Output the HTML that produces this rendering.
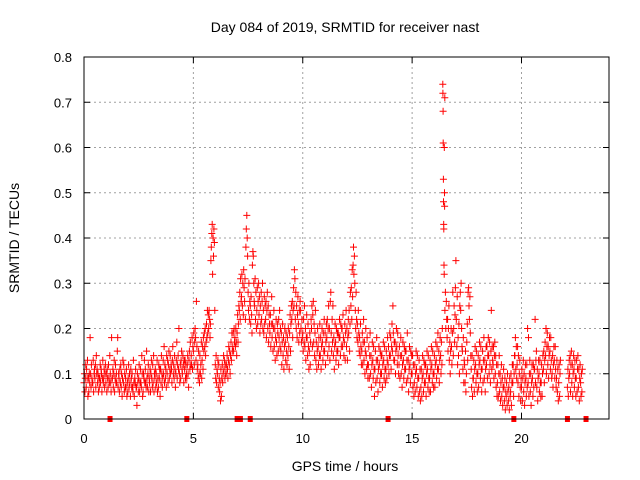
<!DOCTYPE html>
<html><head><meta charset="utf-8">
<style>
html,body{margin:0;padding:0;background:#fff;}
svg{display:block;font-family:"Liberation Sans",sans-serif;}
</style></head>
<body>
<svg id="chart" width="640" height="480" viewBox="0 0 640 480" xmlns="http://www.w3.org/2000/svg">
<rect width="640" height="480" fill="#fff"/>
<text x="345" y="32" font-size="14" text-anchor="middle">Day 084 of 2019, SRMTID for receiver nast</text>
<text transform="translate(19,238) rotate(-90)" font-size="14" text-anchor="middle">SRMTID / TECUs</text>
<text x="345" y="471" font-size="14" text-anchor="middle">GPS time / hours</text>
<g id="grid"></g>
<g id="ticks"></g>
<g id="points"></g>
<g id="flags"></g>
<rect x="84" y="57" width="525" height="362" fill="none" stroke="#000" stroke-width="1"/>
</svg>
<script>
const xTicks = [0,5,10,15,20];
const yTicks = [0,0.1,0.2,0.3,0.4,0.5,0.6,0.7,0.8];
const yTickLabels = ["0","0.1","0.2","0.3","0.4","0.5","0.6","0.7","0.8"];
const binHours = 0.1;
const markerTimes = [1.19,4.7,7.0,7.15,7.6,13.9,19.65,22.1,22.95];
const srmtid = [
[.08,.10,.06,.09,.12],[.07,.11,.09,.13,.05],[.09,.06,.10,.08,.18],[.10,.07,.12,.09,.08],[.08,.13,.06,.10,.11],[.09,.12,.07,.14,.10],[.11,.08,.10,.06,.09],[.07,.09,.12,.08,.11],[.10,.06,.09,.13,.08],[.09,.11,.07,.10,.12],
[.08,.10,.06,.11,.09],[.07,.12,.09,.08,.14],[.10,.08,.06,.18,.09],[.09,.11,.07,.10,.13],[.06,.09,.12,.08,.10],[.08,.15,.18,.07,.10],[.09,.06,.11,.08,.12],[.07,.10,.05,.09,.13],[.08,.12,.06,.10,.07],[.09,.07,.11,.05,.08],
[.06,.09,.12,.07,.10],[.08,.05,.11,.09,.07],[.10,.07,.06,.13,.08],[.05,.09,.08,.11,.07],[.07,.03,.10,.08,.06],[.09,.12,.06,.08,.11],[.08,.07,.14,.10,.05],[.06,.10,.09,.13,.08],[.11,.08,.07,.15,.09],[.07,.10,.12,.06,.09],
[.08,.11,.06,.10,.13],[.09,.07,.12,.08,.14],[.06,.10,.09,.11,.07],[.10,.08,.13,.06,.09],[.07,.12,.09,.11,.05],[.11,.08,.14,.10,.07],[.09,.13,.10,.16,.08],[.12,.09,.11,.07,.14],[.10,.13,.08,.12,.15],[.09,.11,.14,.10,.12],
[.11,.08,.13,.16,.10],[.12,.09,.14,.11,.07],[.10,.13,.17,.09,.12],[.14,.11,.20,.10,.08],[.12,.09,.13,.15,.11],[.10,.14,.12,.08,.13],[.11,.13,.09,.12,.10],[.09,.12,.14,.10,.07],[.13,.15,.11,.17,.12],[.14,.12,.18,.11,.16],
[.15,.19,.12,.17,.20],[.18,.13,.26,.16,.11],[.12,.09,.15,.10,.08],[.14,.10,.12,.17,.09],[.13,.16,.11,.18,.15],[.19,.16,.20,.14,.17],[.21,.18,.24,.19,.23],[.20,.24,.22,.18,.21],[.35,.38,.41,.43,.32],[.40,.36,.42,.39,.24],
[.12,.09,.14,.08,.11],[.10,.13,.07,.12,.09],[.06,.08,.04,.11,.05],[.09,.12,.08,.10,.14],[.11,.13,.09,.12,.10],[.10,.12,.14,.11,.09],[.13,.16,.12,.15,.10],[.14,.17,.13,.19,.15],[.16,.19,.15,.20,.17],[.18,.16,.20,.17,.14],
[.19,.23,.17,.21,.25],[.24,.28,.22,.31,.26],[.27,.32,.25,.30,.23],[.33,.29,.26,.31,.22],[.38,.42,.45,.40,.36],[.28,.24,.30,.22,.26],[.25,.21,.27,.23,.19],[.34,.37,.36,.30,.26],[.25,.31,.22,.28,.20],[.24,.29,.21,.26,.30],
[.23,.27,.19,.25,.21],[.28,.22,.26,.30,.20],[.24,.19,.27,.21,.25],[.22,.26,.18,.24,.28],[.20,.25,.17,.23,.21],[.19,.23,.16,.21,.27],[.18,.21,.15,.20,.24],[.16,.20,.13,.18,.22],[.17,.14,.21,.19,.15],[.22,.18,.24,.16,.20],
[.15,.19,.12,.17,.21],[.14,.18,.11,.16,.20],[.17,.13,.19,.15,.12],[.18,.14,.20,.16,.11],[.19,.23,.15,.21,.25],[.22,.26,.18,.24,.29],[.25,.33,.31,.22,.28],[.20,.25,.18,.23,.27],[.21,.17,.24,.19,.26],[.24,.20,.17,.22,.18],
[.19,.15,.22,.17,.25],[.16,.20,.13,.18,.23],[.18,.14,.21,.16,.11],[.15,.19,.12,.17,.22],[.20,.25,.16,.23,.26],[.17,.21,.14,.19,.24],[.13,.17,.11,.15,.20],[.16,.12,.18,.14,.21],[.14,.18,.11,.16,.20],[.17,.13,.19,.15,.22],
[.15,.19,.12,.17,.21],[.18,.22,.14,.20,.25],[.16,.20,.13,.26,.28],[.19,.15,.22,.17,.25],[.14,.18,.11,.16,.21],[.17,.13,.20,.15,.19],[.15,.19,.12,.18,.22],[.18,.14,.21,.16,.20],[.20,.16,.23,.18,.14],[.17,.21,.13,.19,.24],
[.16,.20,.13,.18,.22],[.19,.24,.15,.21,.28],[.25,.29,.22,.33,.27],[.34,.38,.32,.36,.30],[.24,.20,.28,.22,.18],[.21,.17,.24,.19,.15],[.18,.14,.21,.16,.12],[.15,.19,.12,.17,.22],[.13,.17,.10,.15,.20],[.14,.11,.18,.12,.09],
[.12,.16,.09,.14,.19],[.10,.14,.07,.12,.17],[.13,.09,.16,.11,.05],[.11,.15,.08,.13,.18],[.09,.13,.06,.11,.16],[.12,.08,.15,.10,.14],[.10,.14,.07,.12,.17],[.13,.09,.16,.11,.08],[.11,.15,.09,.13,.18],[.12,.16,.10,.14,.19],
[.14,.18,.11,.16,.21],[.15,.25,.19,.13,.17],[.13,.17,.10,.15,.20],[.16,.12,.19,.14,.10],[.12,.16,.09,.14,.18],[.10,.14,.07,.12,.17],[.13,.09,.16,.11,.15],[.11,.15,.08,.13,.19],[.09,.13,.06,.11,.16],[.12,.08,.15,.10,.14],
[.10,.14,.07,.12,.05],[.08,.12,.06,.10,.15],[.11,.07,.14,.09,.05],[.09,.13,.06,.11,.04],[.07,.11,.05,.09,.14],[.10,.06,.13,.08,.12],[.08,.12,.05,.10,.15],[.11,.07,.14,.09,.06],[.09,.13,.06,.11,.16],[.12,.08,.15,.10,.07],
[.10,.14,.07,.12,.17],[.13,.09,.16,.11,.19],[.11,.15,.08,.13,.18],[.14,.10,.17,.12,.20],[.74,.72,.68,.61,.53,.48,.43,.42,.34,.32,.60,.50,.47,.71],[.24,.28,.20,.26,.22],[.18,.22,.15,.20,.25],[.13,.17,.10,.15,.20],[.16,.12,.19,.28,.14],[.20,.25,.17,.23,.29],
[.35,.22,.16,.27,.12],[.18,.14,.21,.10,.25],[.28,.24,.30,.20,.16],[.15,.11,.18,.08,.13],[.12,.08,.15,.06,.10],[.17,.21,.13,.28,.29],[.25,.22,.27,.19,.14],[.11,.07,.14,.05,.09],[.09,.13,.06,.11,.16],[.12,.08,.15,.10,.06],
[.10,.14,.07,.12,.17],[.13,.09,.16,.11,.06],[.11,.15,.08,.13,.18],[.09,.13,.06,.11,.16],[.12,.16,.09,.14,.18],[.14,.10,.17,.12,.08],[.15,.24,.11,.16,.13],[.12,.16,.09,.14,.17],[.10,.14,.07,.12,.05],[.08,.12,.05,.10,.14],
[.06,.10,.04,.08,.12],[.05,.09,.03,.07,.11],[.07,.04,.09,.02,.06],[.05,.08,.03,.10,.06],[.04,.07,.02,.09,.05],[.06,.10,.03,.08,.12],[.08,.12,.05,.10,.14],[.14,.18,.11,.16,.09],[.12,.16,.08,.14,.05],[.10,.13,.07,.04,.09],
[.07,.11,.04,.09,.13],[.06,.10,.03,.08,.12],[.09,.05,.12,.07,.20],[.08,.18,.05,.10,.13],[.06,.10,.03,.08,.12],[.09,.05,.12,.07,.11],[.11,.22,.08,.13,.15],[.07,.11,.04,.09,.13],[.10,.06,.13,.08,.05],[.08,.12,.05,.10,.14],
[.11,.15,.08,.13,.17],[.14,.20,.10,.16,.19],[.12,.16,.09,.14,.18],[.15,.11,.18,.13,.09],[.10,.14,.07,.12,.16],[.13,.09,.16,.11,.07],[.09,.13,.06,.11,.04],[.08,.12,.05,.10,.13],[],[],
[],[.07,.11,.05,.09,.13],[.10,.14,.06,.12,.15],[.08,.12,.05,.10,.14],[.11,.07,.13,.09,.05],[.09,.13,.06,.11,.14],[.07,.11,.04,.09,.12],[.08,.05,.10,.06,.11],[],[]
];
const X0=84, X1=609, Y0=419, Y1=57, XMAX=24, YMAX=0.8;
function xs(h){return X0+(X1-X0)*h/XMAX;}
function ys(v){return Y0-(Y0-Y1)*v/YMAX;}
const NS="http://www.w3.org/2000/svg";
function mk(tag,attrs,parent){const e=document.createElementNS(NS,tag);for(const k in attrs)e.setAttribute(k,attrs[k]);parent.appendChild(e);return e;}
const grid=document.getElementById('grid'), ticks=document.getElementById('ticks');
xTicks.forEach((t,i)=>{
  const x=xs(t);
  if(t>0){const g=mk('line',{x1:x,y1:Y1,x2:x,y2:Y0,stroke:'#a0a0a0','stroke-dasharray':'2,3','stroke-width':1},grid);
  
  }
  mk('line',{x1:x,y1:Y0,x2:x,y2:Y0-6,stroke:'#000'},ticks);
  mk('line',{x1:x,y1:Y1,x2:x,y2:Y1+6,stroke:'#000'},ticks);
  const l=mk('text',{x:x,y:443,'font-size':13,'text-anchor':'middle'},ticks);
  l.textContent=String(t);
  
  
});
yTicks.forEach((t,i)=>{
  const y=ys(t);
  if(t>0&&t<0.8){const g=mk('line',{x1:X0,y1:y,x2:X1,y2:y,stroke:'#a0a0a0','stroke-dasharray':'2,3','stroke-width':1},grid);
  
  }
  mk('line',{x1:X0,y1:y,x2:X0+6,y2:y,stroke:'#000'},ticks);
  mk('line',{x1:X1,y1:y,x2:X1-6,y2:y,stroke:'#000'},ticks);
  const l=mk('text',{x:72,y:y+5,'font-size':13,'text-anchor':'end'},ticks);
  l.textContent=yTickLabels[i];
  
  
});
const pts=document.getElementById('points');
let d='';
srmtid.forEach((bin,b)=>{
  const n=bin.length;
  bin.forEach((v,j)=>{
    const x=xs(b*binHours+j*binHours/n), y=ys(v);
    d+='M'+(x-3.5).toFixed(1)+' '+y.toFixed(1)+'h7M'+x.toFixed(1)+' '+(y-3.5).toFixed(1)+'v7';
  });
});
const p=mk('path',{d:d,stroke:'#ff0000','stroke-width':1,fill:'none'},pts);


const flags=document.getElementById('flags');
markerTimes.forEach(t=>{
  const r=mk('rect',{x:xs(t)-2.5,y:Y0-3,width:5,height:6,fill:'#ff0000'},flags);
  
  
});
</script>
</body></html>
